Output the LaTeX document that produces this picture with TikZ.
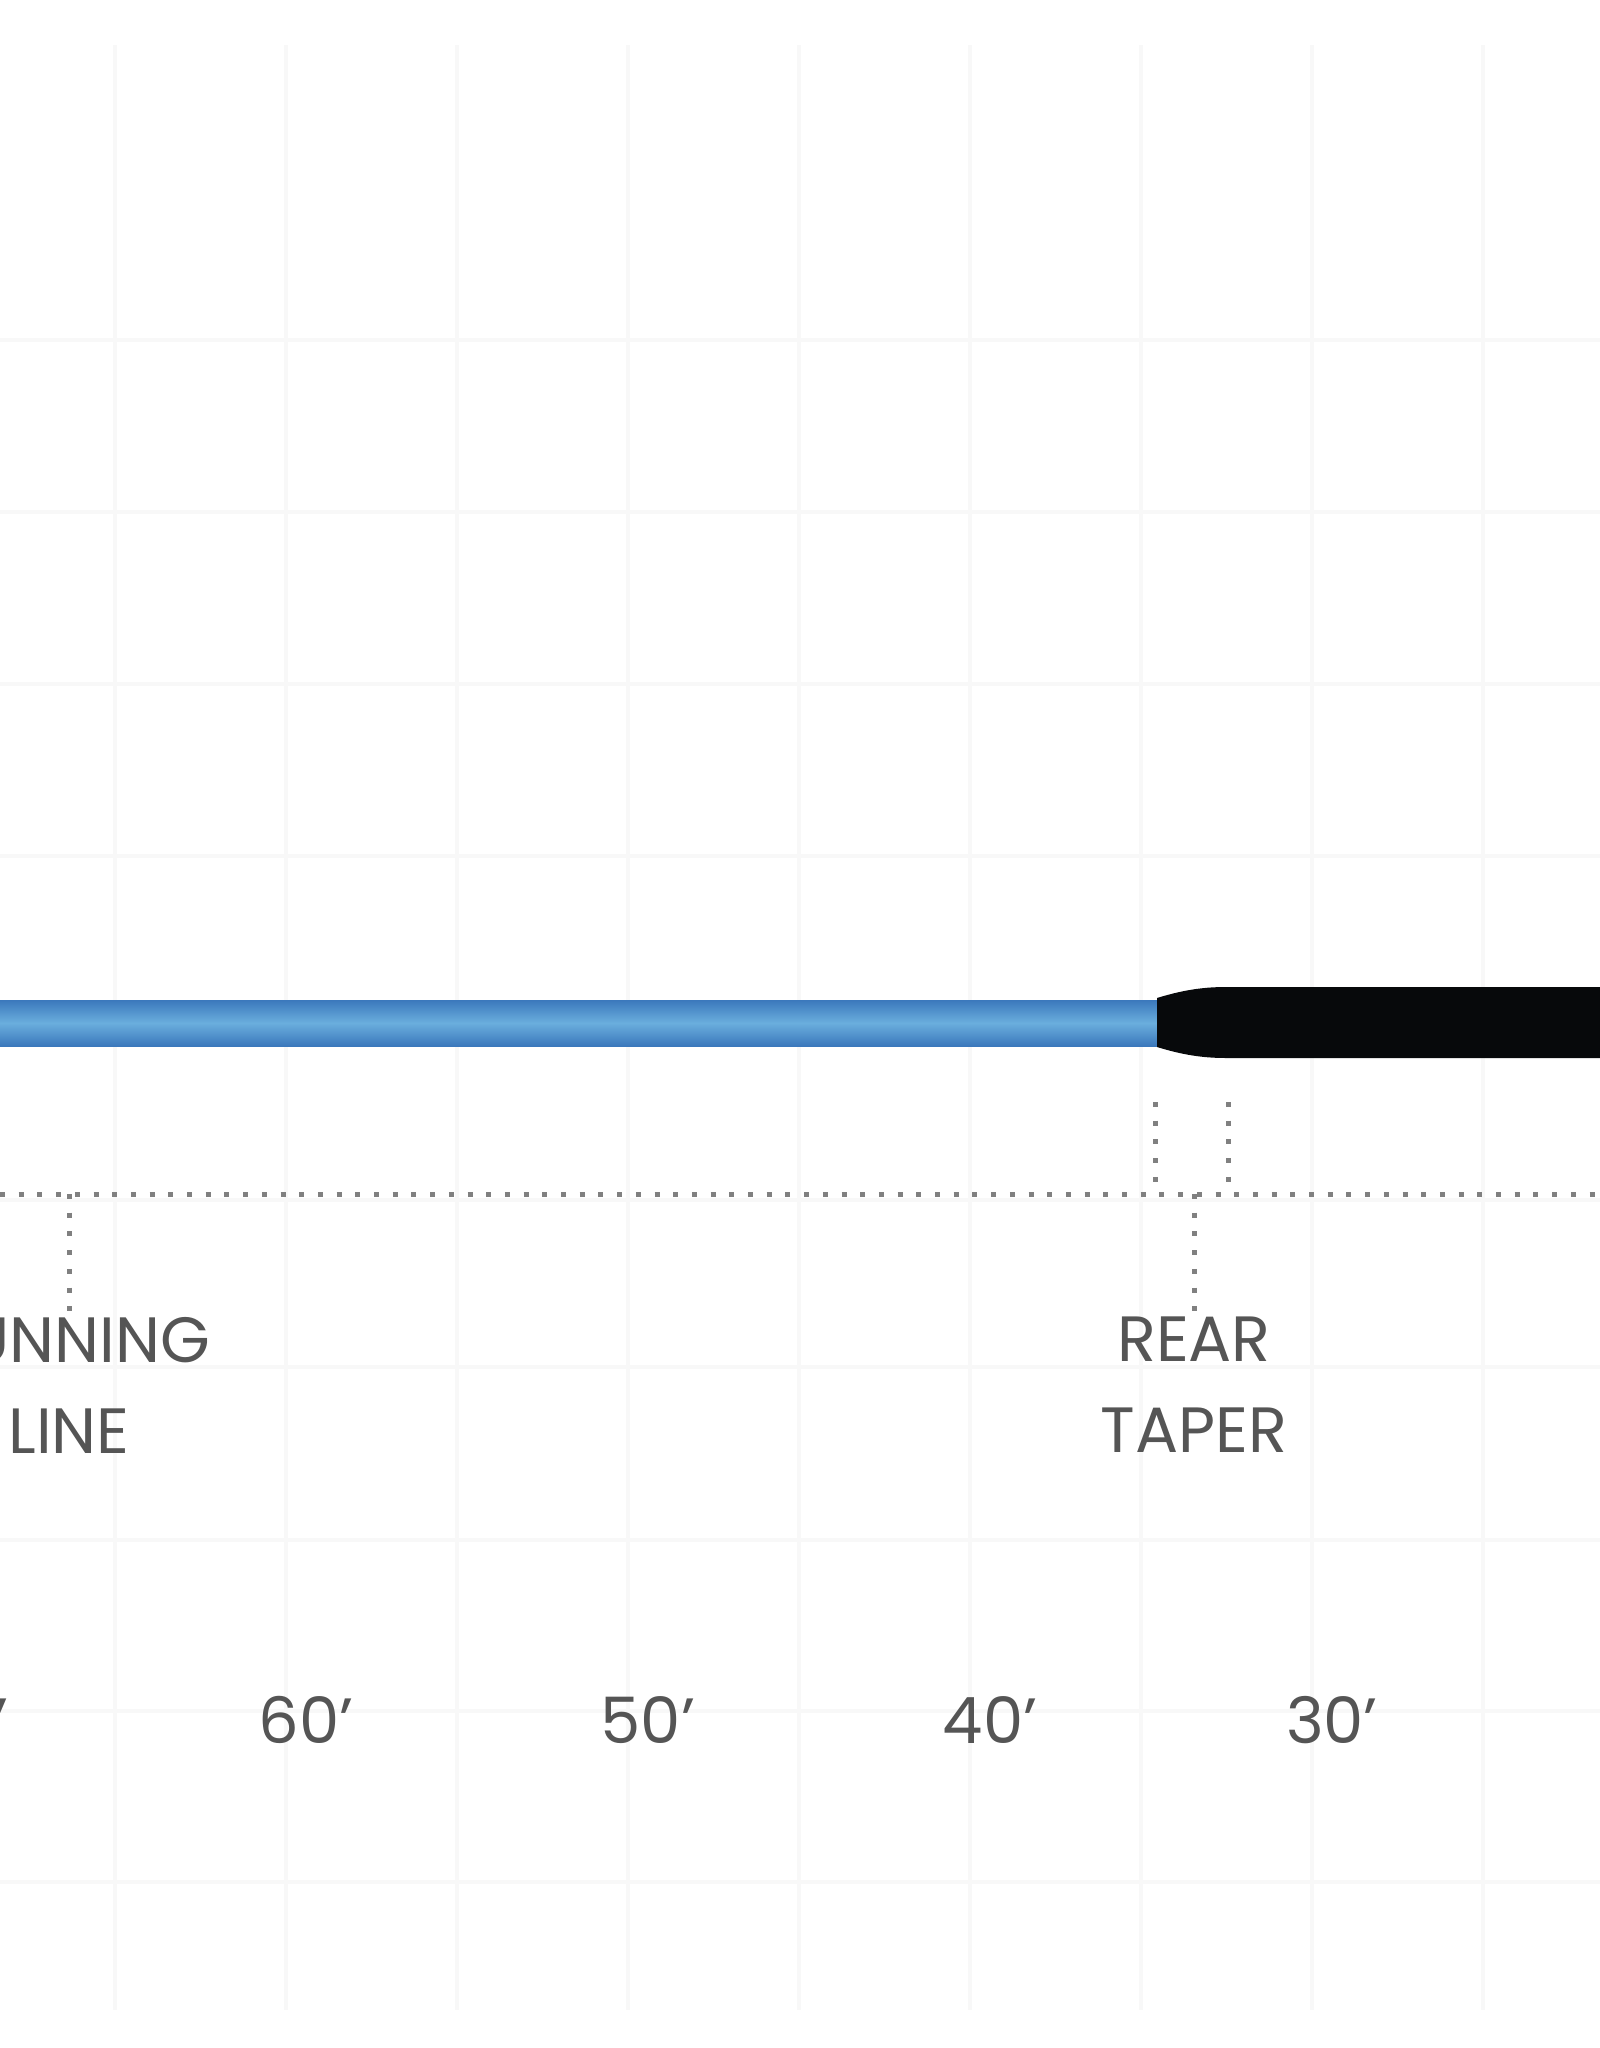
\documentclass[tikz,border=0pt]{standalone}
\usepackage{fontspec}
\setmainfont{Poppins}
\definecolor{gridc}{HTML}{F8F8F8}
\definecolor{dotc}{HTML}{808080}
\definecolor{txtc}{HTML}{555555}
\definecolor{blueedge}{HTML}{3B78BC}
\definecolor{bluemid}{HTML}{6AAEDD}
\definecolor{linek}{HTML}{07090B}
\tikzset{
  gridline/.style={draw=gridc, line width=4pt},
  dotline/.style={draw=dotc, line width=5pt, dash pattern=on 5pt off 13.7pt},
  lbl/.style={text=txtc, font=\fontsize{64}{91}\selectfont, align=center, inner sep=0pt},
  dist/.style={text=txtc, font=\fontsize{64}{80}\selectfont, inner sep=0pt, anchor=base},
}
\begin{document}
\begin{tikzpicture}[x=1pt,y=-1pt]
\useasboundingbox (0,0) rectangle (1600,2048);
\clip (0,0) rectangle (1600,2048);
\fill[white] (0,0) rectangle (1600,2048);
% faint grid
\foreach \gx in {115,286,457,628,799,970,1141,1312,1483}
  \draw[gridline] (\gx,45) -- (\gx,2010);
\foreach \gy in {340,512,684,856,1200,1367,1540,1711,1882}
  \draw[gridline] (0,\gy) -- (1600,\gy);
% running line (blue)
\shade[top color=blueedge, bottom color=blueedge, middle color=bluemid] (0,1000) rectangle (1159,1046);
% head (black) with rear taper
\fill[linek] (1157,998) .. controls (1180,991) and (1200,987) .. (1226,987)
  -- (1600,987) -- (1600,1058) -- (1226,1058)
  .. controls (1200,1058) and (1180,1054) .. (1157,1047) -- cycle;
% dotted baseline
\coordinate (bl) at (0,1194);
\coordinate (br) at (1600,1194);
\draw[dotline] (bl) -- (br);
% markers
\coordinate (rt1) at (1155,1102);
\coordinate (rt1b) at (1155,1194);
\coordinate (rt2) at (1228,1102);
\coordinate (rt2b) at (1228,1194);
\draw[dotline] (rt1) -- (rt1b);
\draw[dotline] (rt2) -- (rt2b);
% labels
\node[lbl, anchor=north] (run) at (69,1317) {RUNNING\\LINE};
\node[lbl, anchor=north] (rear) at (1194,1317) {REAR\\TAPER};
\coordinate (runtop) at (69,1194);
\coordinate (reartop) at (1194,1194);
\draw[dotline] (runtop) -- (run.north);
\draw[dotline] (reartop) -- (rear.north);
% distances
\node[dist] (d70) at (-36,1743) {70’};
\node[dist] (d60) at (306,1743) {60’};
\node[dist] (d50) at (648,1743) {50’};
\node[dist] (d40) at (990,1743) {40’};
\node[dist] (d30) at (1332,1743) {30’};
\end{tikzpicture}
\end{document}
